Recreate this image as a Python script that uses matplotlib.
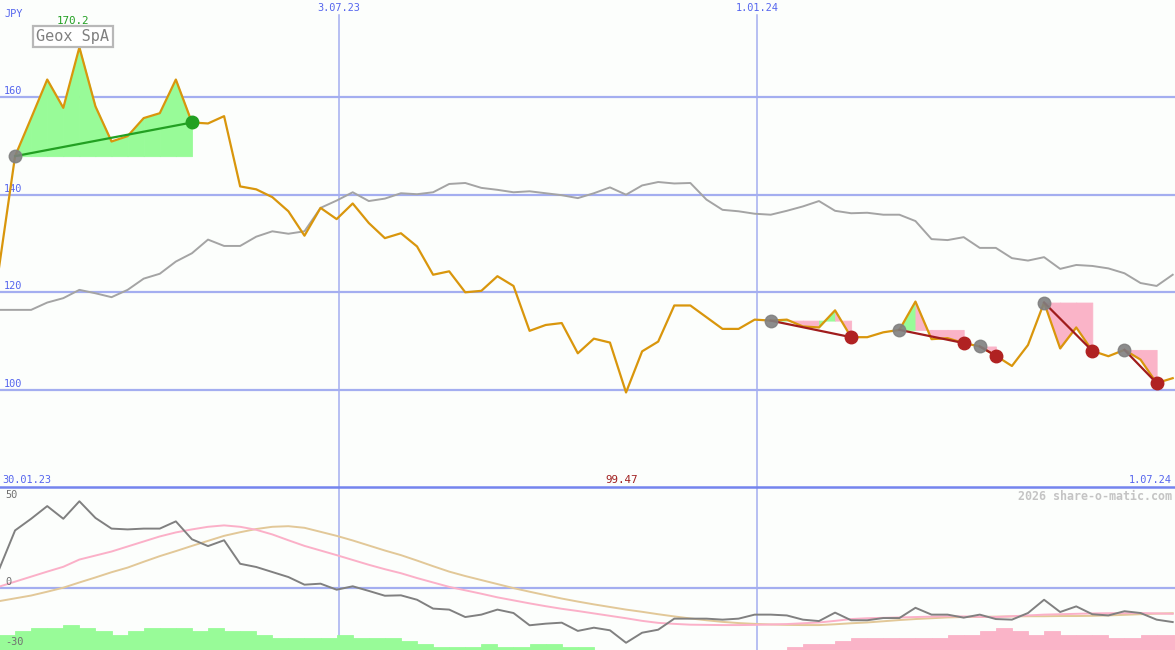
import datetime as dt

import matplotlib
matplotlib.use('Agg')
import matplotlib.dates as mdates
import matplotlib.pyplot as plt
import numpy as np
import pandas as pd
from matplotlib.lines import Line2D

# weekly data
start_date = '2023-02-05'
n_weeks = 74

price = [125.0, 147.9, 155.7, 163.6, 157.8, 170.2, 158.1, 150.9, 152.0, 155.7,
         156.7, 163.6, 154.8, 154.6, 156.1, 141.7, 141.1, 139.5, 136.6, 131.6,
         137.3, 135.0, 138.2, 134.2, 131.1, 132.1, 129.4, 123.6, 124.3, 120.0,
         120.3, 123.3, 121.3, 112.1, 113.3, 113.7, 107.5, 110.5, 109.7, 99.47,
         107.9, 109.9, 117.3, 117.3, 114.9, 112.5, 112.5, 114.4, 114.2, 114.4,
         113.0, 112.8, 116.3, 110.8, 110.8, 111.8, 112.3, 118.1, 110.4, 110.6,
         109.6, 108.9, 107.0, 104.9, 109.2, 117.9, 108.5, 112.8, 108.0, 106.9,
         108.2, 106.2, 101.4, 102.4]

benchmark = [116.4, 116.4, 116.4, 117.9, 118.8, 120.5, 119.8, 119.0, 120.5, 122.8,
             123.8, 126.3, 128.0, 130.8, 129.5, 129.5, 131.4, 132.5, 132.0, 132.5,
             137.3, 138.8, 140.5, 138.7, 139.2, 140.3, 140.1, 140.5, 142.2, 142.4,
             141.4, 141.0, 140.5, 140.7, 140.3, 139.9, 139.3, 140.3, 141.5, 140.0,
             141.9, 142.6, 142.3, 142.4, 139.0, 136.9, 136.6, 136.1, 135.9, 136.7,
             137.6, 138.7, 136.7, 136.2, 136.3, 135.9, 135.9, 134.6, 130.9, 130.7,
             131.3, 129.1, 129.1, 127.0, 126.5, 127.2, 124.8, 125.6, 125.4, 124.9,
             123.9, 121.9, 121.3, 123.6]

momentum = [9.0, 28.5, 34.3, 40.6, 34.3, 43.0, 34.7, 29.4, 29.0, 29.4,
            29.4, 33.0, 24.1, 20.7, 23.6, 11.9, 10.3, 7.8, 5.3, 1.5,
            2.0, -1.0, 0.7, -1.6, -4.0, -3.8, -6.0, -10.4, -10.9, -14.6,
            -13.4, -10.9, -12.6, -18.7, -17.9, -17.4, -21.5, -19.9, -21.2, -27.4,
            -22.4, -20.9, -15.4, -15.4, -15.4, -15.9, -15.4, -13.4, -13.4, -13.8,
            -15.9, -16.6, -12.4, -16.2, -16.2, -15.1, -15.1, -10.0, -13.4, -13.4,
            -14.9, -13.4, -15.6, -15.9, -12.6, -6.0, -12.1, -9.3, -13.2, -13.8,
            -11.7, -12.6, -15.9, -17.1]

signal_fast = [0.5, 3.0, 5.5, 8.0, 10.4, 14.0, 16.0, 18.0, 20.5, 23.0,
               25.5, 27.5, 29.0, 30.3, 31.0, 30.3, 28.8, 26.5, 23.6, 20.8,
               18.5, 16.2, 13.8, 11.4, 9.2, 7.2, 4.8, 2.6, 0.4, -1.3,
               -3.0, -4.8, -6.3, -7.8, -9.2, -10.5, -11.6, -12.8, -14.0, -15.2,
               -16.5, -17.5, -18.0, -18.4, -18.5, -18.6, -18.6, -18.5, -18.3, -18.1,
               -17.7, -17.3, -16.5, -15.6, -15.2, -15.0, -14.8, -14.6, -14.4, -14.2,
               -14.3, -14.5, -14.6, -14.2, -13.8, -13.4, -13.2, -13.0, -12.8, -12.7,
               -12.7, -12.6, -12.8, -13.0]

signal_slow = [-6.7, -5.3, -3.9, -2.0, 0.0, 2.6, 5.1, 7.7, 10.0, 12.9,
               15.7, 18.2, 20.8, 23.3, 25.8, 27.6, 29.2, 30.3, 30.6, 29.8,
               27.8, 25.8, 23.5, 21.0, 18.5, 16.2, 13.5, 10.7, 8.0, 5.8,
               3.8, 1.8, -0.2, -2.0, -3.7, -5.4, -6.9, -8.3, -9.6, -10.9,
               -12.0, -13.2, -14.3, -15.3, -16.2, -17.0, -17.6, -18.0, -18.3, -18.5,
               -18.6, -18.6, -18.2, -17.7, -17.3, -16.7, -16.1, -15.6, -15.2, -14.8,
               -14.6, -14.5, -14.4, -14.3, -14.2, -14.2, -14.1, -14.1, -14.0, -13.8,
               -13.5, -13.2, -12.9, -12.7]

nan = np.nan
hist_buy = [-23.4, -21.5, -20.0, -20.0, -18.4, -20.0, -21.5, -23.4, -21.5, -20.0,
            -20.0, -20.0, -21.5, -20.0, -21.5, -21.5, -23.4, -25.0, -25.0, -25.0,
            -25.0, -23.4, -25.0, -25.0, -25.0, -26.5, -28.0, -29.5, -29.5, -29.5,
            -28.0, -29.5, -29.5, -28.0, -28.0, -29.5, -29.5] + [nan] * 37
hist_sell = [nan] * 49 + [-29.5, -28.0, -28.0, -26.5, -25.0, -25.0, -25.0, -25.0, -25.0, -25.0,
                          -23.4, -23.4, -21.5, -20.0, -21.5, -23.4, -21.5, -23.4, -23.4, -23.4,
                          -25.0, -25.0, -23.4, -23.4, -23.4]

# trade signals as week indices
buy_trades = [(1, 12)]
sell_trades = [(48, 53), (56, 60), (61, 62), (65, 68), (70, 72)]

price_ticks = [100, 120, 140, 160]
date_lines = ['2023-07-03', '2024-01-01']
date_line_labels = ['3.07.23', '1.01.24']

# colours
bg = '#fcfefc'
grid_c = '#a4aef0'
frame_c = '#7484ee'
label_c = '#5565ee'
orange = '#d9960c'
green_fill = '#98fb98'
pink_fill = '#fab4c8'

dates = pd.date_range(start_date, periods=n_weeks, freq='7D')
x = mdates.date2num(dates.to_pydatetime())
price = np.array(price)
x_left = x[0] + 0.44
x_right = mdates.date2num(dt.datetime(2024, 7, 1))

W, H = 1175, 650
fig = plt.figure(figsize=(W / 100, H / 100), dpi=100, facecolor=bg)
ax1 = fig.add_axes([0, 163 / H, 1, 487 / H], facecolor=bg)
ax2 = fig.add_axes([0, 0, 1, 163 / H], facecolor=bg)
for ax in (ax1, ax2):
    ax.set_xlim(x_left, x_right)
    ax.set_axis_off()
ax1.set_ylim(80.1, 179.9)
ax2.set_ylim(-31.0, 50.1)

mono = 'DejaVu Sans Mono'

# grid
for v in price_ticks:
    ax1.axhline(v, color=grid_c, lw=1.6, zorder=1)
    ax1.annotate(str(v), xy=(0, v), xycoords=('axes fraction', 'data'),
                 xytext=(4, 1), textcoords='offset pixels', color=label_c,
                 fontsize=7.4, family=mono, va='bottom', ha='left')
ax2.axhline(0, color=grid_c, lw=1.6, zorder=1)
for d, lab in zip(date_lines, date_line_labels):
    xd = mdates.date2num(pd.Timestamp(d).to_pydatetime())
    ax1.axvline(xd, ymin=0, ymax=1 - 15 / 487, color=grid_c, lw=1.1, zorder=1)
    ax2.axvline(xd, color=grid_c, lw=1.1, zorder=1)
    ax1.text(xd, 1 - 8 / 487, lab, transform=ax1.get_xaxis_transform(),
             ha='center', va='center', color=label_c, fontsize=7.4, family=mono)

fig.add_artist(Line2D([0, 1], [163 / H, 163 / H], transform=fig.transFigure,
                      color=frame_c, lw=1.8))

# benchmark and price
ax1.plot(x, benchmark, color='#a4a4a4', lw=1.4, zorder=3)


def fill_trade(i0, i1, line_c, end_c):
    level = price[i0]
    for k in range(i0, i1):
        c = green_fill if price[k + 1] > level else pink_fill
        ax1.fill_between(x[k:k + 2], level, price[k:k + 2], facecolor=c,
                         edgecolor=c, lw=0.6, zorder=2)
    ax1.plot([x[i0], x[i1]], [price[i0], price[i1]], color=line_c, lw=1.6, zorder=5)
    ax1.plot(x[i0], price[i0], 'o', ms=9, color='#808080', alpha=0.9, zorder=6)
    ax1.plot(x[i1], price[i1], 'o', ms=9, color=end_c, zorder=6)


for i0, i1 in buy_trades:
    fill_trade(i0, i1, '#22a022', '#22a022')
for i0, i1 in sell_trades:
    fill_trade(i0, i1, '#a01c1c', '#b02222')

ax1.plot(x, price, color=orange, lw=1.6, zorder=4)

# labels in the price panel
imax = int(np.argmax(price))
imin = int(np.argmin(price))
ax1.text(0.004, 1 - 14 / 487, 'JPY', transform=ax1.transAxes, color=label_c,
         fontsize=7.4, family=mono, va='center')
ax1.annotate(f'{price[imax]:.1f}', xy=(x[imax], 1 - 21 / 487),
             xycoords=('data', 'axes fraction'), xytext=(-6, 0),
             textcoords='offset pixels', color='#22a022', fontsize=7.8,
             family=mono, ha='center', va='center')
ax1.annotate(f'{price[imin]:.2f}', xy=(x[imin], 7 / 487),
             xycoords=('data', 'axes fraction'), xytext=(-4, 0),
             textcoords='offset pixels', color='#a02020', fontsize=7.8,
             family=mono, ha='center', va='center')
ax1.text(2 / W, 7 / 487, '30.01.23', transform=ax1.transAxes, color=label_c,
         fontsize=7.4, family=mono, va='center', ha='left')
ax1.text(1 - 3 / W, 7 / 487, '1.07.24', transform=ax1.transAxes, color=label_c,
         fontsize=7.4, family=mono, va='center', ha='right')
fig.text(73 / W, 1 - 36.5 / H, 'Geox SpA', color='#808080', fontsize=11,
         family=mono, ha='center', va='center',
         bbox=dict(boxstyle='square,pad=0.22', fc='white', ec='#b8b8b8', lw=1.6))

# lower panel
hb = np.array(hist_buy)
hs = np.array(hist_sell)
bottom = -31.0
ax2.bar(x, hb - bottom, bottom=bottom, width=7, align='edge', color=green_fill,
        edgecolor=green_fill, lw=0.6, zorder=3)
ax2.bar(x, hs - bottom, bottom=bottom, width=7, align='edge', color=pink_fill,
        edgecolor=pink_fill, lw=0.6, zorder=3)
ax2.plot(x, signal_slow, color='#e2c898', lw=1.4, zorder=4)
ax2.plot(x, signal_fast, color='#fbb0c8', lw=1.4, zorder=4)
ax2.plot(x, momentum, color='#808080', lw=1.4, zorder=5)

for v, ypx in [(50, 495), (0, 582), (-30, 642)]:
    fig.text(5 / W, 1 - ypx / H, str(v), color='#707070', fontsize=7.4,
             family=mono, va='center', ha='left')
fig.text(1 - 3 / W, 1 - 496 / H, '2026 share-o-matic.com', color='#c4c4c4',
         fontsize=8.4, family=mono, fontweight='bold', va='center', ha='right')

fig.savefig('out.png', dpi=100, facecolor=bg)
